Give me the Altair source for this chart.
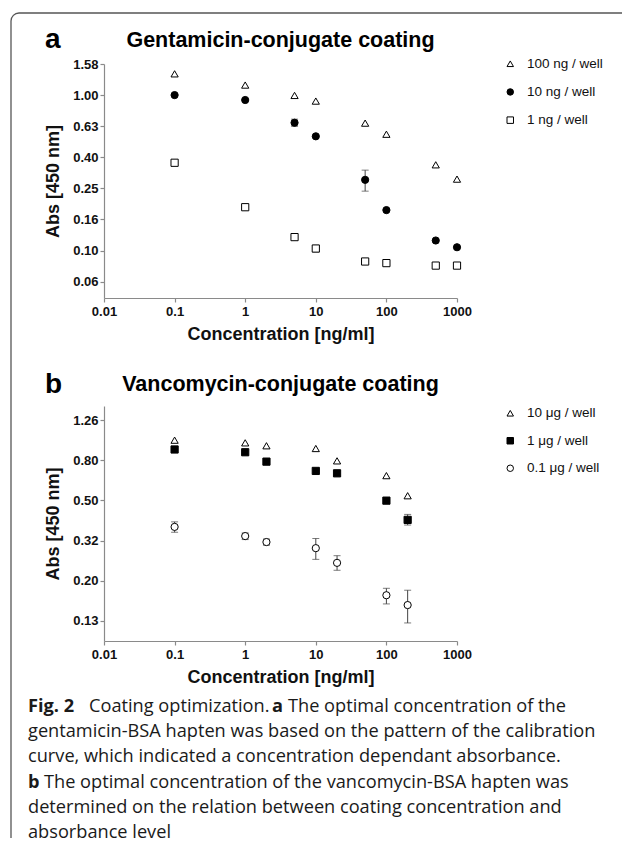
import json
import altair as alt
import pandas as pd

# ---------------- data ----------------
conc_a = [0.1, 1, 5, 10, 50, 100, 500, 1000]
series_a = ["100 ng / well", "10 ng / well", "1 ng / well"]
abs_a_100 = [1.37, 1.16, 0.995, 0.915, 0.66, 0.56, 0.356, 0.288]
abs_a_10 = [1.00, 0.93, 0.664, 0.543, 0.285, 0.182, 0.116, 0.105]
abs_a_1 = [0.367, 0.190, 0.122, 0.103, 0.085, 0.083, 0.080, 0.080]
err_a_series = ["10 ng / well", "10 ng / well", "1 ng / well"]
err_a_conc = [5, 50, 10]
err_a_lo = [0.630, 0.241, 0.098]
err_a_hi = [0.700, 0.329, 0.108]

conc_b = [0.1, 1, 2, 10, 20, 100, 200]
series_b = ["10 \u03bcg / well", "1 \u03bcg / well", "0.1 \u03bcg / well"]
abs_b_10 = [1.00, 0.97, 0.938, 0.909, 0.789, 0.666, 0.529]
abs_b_1 = [0.899, 0.871, 0.782, 0.703, 0.684, 0.500, 0.401]
abs_b_01 = [0.370, 0.333, 0.311, 0.290, 0.245, 0.169, 0.151]
err_b_series = ["1 \u03bcg / well"] + ["0.1 \u03bcg / well"] * 7
err_b_conc = [200, 0.1, 1, 2, 10, 20, 100, 200]
err_b_lo = [0.378, 0.348, 0.320, 0.300, 0.255, 0.225, 0.153, 0.123]
err_b_hi = [0.427, 0.392, 0.345, 0.322, 0.324, 0.266, 0.183, 0.179]

x_ticks = [0.01, 0.1, 1, 10, 100, 1000]
y_exp_a = [-1.2, -1.0, -0.8, -0.6, -0.4, -0.2, 0.0, 0.2]
y_labels_a = ["0.06", "0.10", "0.16", "0.25", "0.40", "0.63", "1.00", "1.58"]
y_exp_b = [-0.9, -0.7, -0.5, -0.3, -0.1, 0.1]
y_labels_b = ["0.13", "0.20", "0.32", "0.50", "0.80", "1.26"]

caption = [
    [("Fig. 2", True), ("Coating optimization.", False), ("a", True),
     ("The optimal concentration of the", False)],
    [("gentamicin-BSA hapten was based on the pattern of the calibration", False)],
    [("curve, which indicated a concentration dependant absorbance.", False)],
    [("b", True), ("The optimal concentration of the vancomycin-BSA hapten was", False)],
    [("determined on the relation between coating concentration and", False)],
    [("absorbance level", False)],
]

# ---------------- layout / style ----------------
FONT = "Liberation Sans"
CAP_FONT = "Open Sans"
CAP_SIZE = 18.2
FRAME = "#555555"
AXIS_GREY = "#8a8a8a"
W = 353
H_A = 234
H_B = 235
cap_x = [[-76, -15, 168, 184], [-76], [-76], [-76, -60], [-76], [-76]]
cap_y0 = 11
cap_dy = 25.2


def long_df(conc, names, cols, field):
    rows = []
    for name, vals in zip(names, cols):
        for c, v in zip(conc, vals):
            rows.append({"conc": c, "abs": v, field: name})
    return pd.DataFrame(rows)


def panel(df, field, names, shapes, fills, err_df, ydom, yexp, ylabels,
          height, title, letter, title_y, letter_y, leg_y, leg_pad, extra=None):
    tick_vals = [10 ** e for e in yexp]
    label_expr = "%s[round((log(datum.value)/LN10 - (%s))*5)]" % (json.dumps(ylabels), yexp[0])
    xs = alt.X("conc:Q",
               scale=alt.Scale(type="log", domain=[0.01, 1000], nice=False),
               axis=alt.Axis(values=x_ticks, format="~g", title="Concentration [ng/ml]",
                             titleY=41, titleBaseline="alphabetic", titleX=W / 2,
                             labelFlush=False, labelOverlap=False, tickSize=4, labelPadding=3))
    ys = alt.Y("abs:Q",
               scale=alt.Scale(type="log", domain=ydom, nice=False),
               axis=alt.Axis(values=tick_vals, labelExpr=label_expr, title="Abs [450 nm]",
                             titleX=-46, titleY=height / 2, titleAngle=270,
                             titleBaseline="alphabetic", titleAlign="center",
                             labelFlush=False, labelOverlap=False, tickSize=4, labelPadding=2))
    leg = alt.Legend(title=None, orient="none", legendX=399.5, legendY=leg_y,
                     symbolSize=42, symbolStrokeColor="black",
                     symbolStrokeWidth=1, labelFont=FONT,
                     labelFontSize=13.5, labelColor="#111111",
                     labelOffset=10, rowPadding=leg_pad, padding=0)
    base = alt.Chart(df)
    err = alt.Chart(err_df)
    rules = err.mark_rule(color="#444444", strokeWidth=1).encode(x=xs, y=ys, y2="hi:Q")
    cap_lo = err.mark_tick(orient="horizontal", size=7, thickness=1, color="#444444").encode(
        x="conc:Q", y="abs:Q")
    cap_hi = err.mark_tick(orient="horizontal", size=7, thickness=1, color="#444444").encode(
        x="conc:Q", y="hi:Q")
    pts = base.mark_point(opacity=1, fillOpacity=1, strokeWidth=1, size=52).encode(
        x=xs, y=ys,
        shape=alt.Shape(field + ":N", scale=alt.Scale(domain=names, range=shapes), legend=leg),
        fill=alt.Fill(field + ":N", scale=alt.Scale(domain=names, range=fills), legend=leg),
        stroke=alt.Stroke(field + ":N", scale=alt.Scale(domain=names,
                                                        range=["black", "black", "black"]),
                          legend=leg),
    )
    ttl = alt.Chart(pd.DataFrame({"t": [title]})).mark_text(
        font=FONT, fontSize=21.5, fontWeight="bold", align="center", baseline="alphabetic",
        color="black").encode(text="t:N", x=alt.value(W / 2), y=alt.value(title_y))
    let = alt.Chart(pd.DataFrame({"t": [letter]})).mark_text(
        font=FONT, fontSize=28, fontWeight="bold", align="left", baseline="alphabetic",
        color="black").encode(text="t:N", x=alt.value(-59), y=alt.value(letter_y))
    layers = [rules, cap_lo, cap_hi, pts, ttl, let]
    if extra:
        layers += extra
    return alt.layer(*layers).properties(width=W, height=height)


# decorative frame (rounded top-left corner, cut off at right and bottom)
frame_src = alt.Chart(pd.DataFrame({"k": [0]}))
frame = [
    frame_src.mark_rule(color=FRAME, strokeWidth=1.3).encode(
        x=alt.value(-85), x2=alt.value(518), y=alt.value(-51)),
    frame_src.mark_rule(color=FRAME, strokeWidth=1.3).encode(
        x=alt.value(-93), y=alt.value(-43), y2=alt.value(774)),
    frame_src.mark_arc(color=FRAME, radius=8.65, radius2=7.35, theta=4.7124, theta2=6.2832).encode(
        x=alt.value(-85), y=alt.value(-43)),
]

df_a = long_df(conc_a, series_a, [abs_a_100, abs_a_10, abs_a_1], "sa")
err_a = pd.DataFrame({"conc": err_a_conc, "abs": err_a_lo, "hi": err_a_hi, "sa": err_a_series})
df_b = long_df(conc_b, series_b, [abs_b_10, abs_b_1, abs_b_01], "sb")
err_b = pd.DataFrame({"conc": err_b_conc, "abs": err_b_lo, "hi": err_b_hi, "sb": err_b_series})

pa = panel(df_a, "sa", series_a, ["triangle-up", "circle", "square"], ["white", "black", "white"],
           err_a, [0.0495, 1.585], y_exp_a, y_labels_a, H_A,
           "Gentamicin-conjugate coating", "a", -17, -16, -7, 13.2, extra=frame)
pb = panel(df_b, "sb", series_b, ["triangle-up", "square", "circle"], ["white", "black", "white"],
           err_b, [0.1, 1.48], y_exp_b, y_labels_b, H_B,
           "Vancomycin-conjugate coating", "b", -15, -13, 0.5, 12.5)

cap_layers = []
for li, line in enumerate(caption):
    for si, (txt, bold) in enumerate(line):
        cap_layers.append(
            alt.Chart(pd.DataFrame({"t": [txt]})).mark_text(
                font=CAP_FONT, fontSize=CAP_SIZE, fontWeight="bold" if bold else "normal",
                align="left", baseline="alphabetic", color="#1a1a1a").encode(
                text="t:N", x=alt.value(cap_x[li][si]), y=alt.value(cap_y0 + li * cap_dy)))
cap_chart = alt.layer(*cap_layers).properties(width=W, height=130)

# gaps: A bottom (297) -> B top (405) = 108; B bottom (640) -> caption top (700) = 60
chart = alt.vconcat(
    pa,
    alt.vconcat(pb, cap_chart, spacing=60, bounds="flush"),
    spacing=108, bounds="flush",
).resolve_scale(
    x="independent", y="independent", shape="independent", fill="independent",
    stroke="independent"
).resolve_legend(shape="independent", fill="independent", stroke="independent").properties(
    padding={"left": 2, "top": 4, "right": 0, "bottom": 0}, background="white"
).configure_view(stroke=None).configure_axis(
    labelFont=FONT, labelFontSize=13, labelFontWeight="bold", labelColor="#111111",
    titleFont=FONT, titleFontSize=18, titleFontWeight="bold", titleColor="#111111",
    domainColor=AXIS_GREY, tickColor=AXIS_GREY, grid=False, domainWidth=1.2, tickWidth=1.2)

chart.save("out.html", embed_options={"renderer": "svg", "actions": False})
